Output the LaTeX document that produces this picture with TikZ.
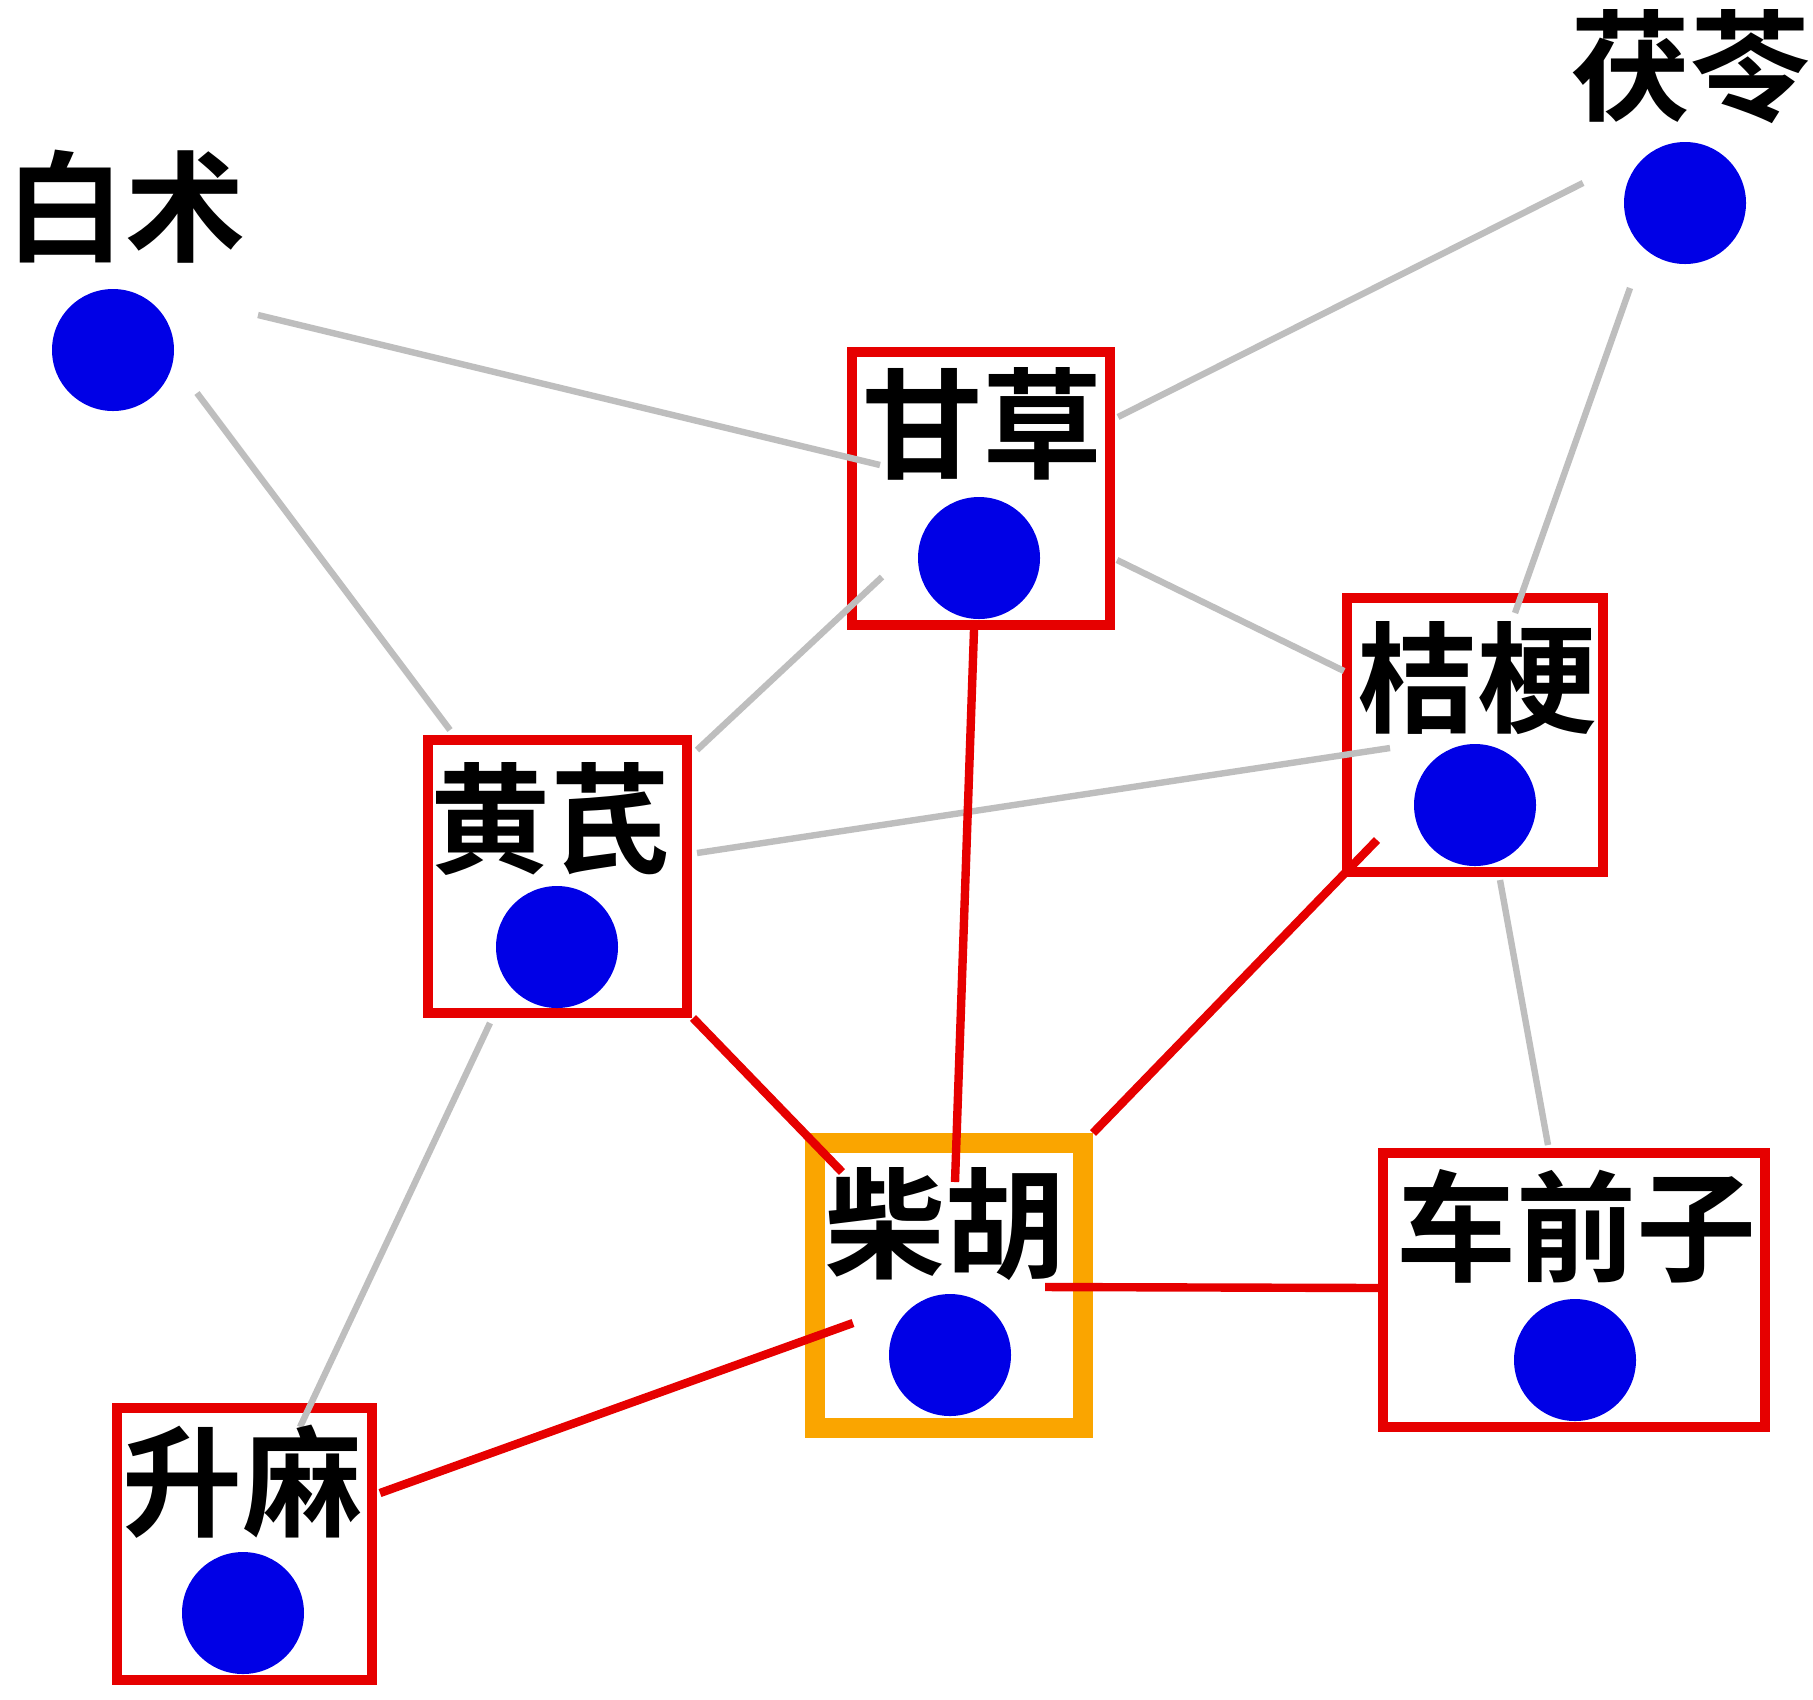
\documentclass[tikz,border=0pt]{standalone}
\usepackage{fontspec}
\newfontfamily\cjk{Noto Sans CJK SC Bold}
\definecolor{dotblue}{RGB}{0,0,230}
\definecolor{boxred}{RGB}{230,0,0}
\definecolor{edgegray}{RGB}{190,190,190}
\definecolor{hubor}{RGB}{250,165,0}
\tikzset{
  herbbox/.style={draw=boxred, line width=5pt, inner sep=0pt, fill=white},
  hubbox/.style={draw=hubor, line width=10pt, inner sep=0pt, fill=white},
  dot/.style={circle, fill=dotblue, minimum size=61pt, inner sep=0pt},
  lbl/.style={font=\cjk\fontsize{60pt}{60pt}\selectfont, inner sep=0pt, text=black},
  grayedge/.style={draw=edgegray, line width=3.2pt},
  rededge/.style={draw=boxred, line width=4.2pt}
}
\begin{document}
\begin{tikzpicture}[x=0.5pt,y=-0.5pt]
\fill[white] (0,0) rectangle (1813,1699);
\useasboundingbox (0,0) rectangle (1813,1699);
% boxes
\node[herbbox, minimum width=129pt, minimum height=136.5pt] (bGC) at (981,488.5) {};
\node[herbbox, minimum width=128pt, minimum height=137pt] (bJG) at (1475,735) {};
\node[herbbox, minimum width=129.5pt, minimum height=136.5pt] (bHQ) at (557.5,876.5) {};
\node[hubbox, minimum width=134pt, minimum height=142.5pt] (bCH) at (949,1285.5) {};
\node[herbbox, minimum width=191pt, minimum height=137pt] (bCQ) at (1574,1290) {};
\node[herbbox, minimum width=127.5pt, minimum height=136pt] (bSM) at (244.5,1544) {};
% edge end points
\coordinate (g1a) at (258,315);  \coordinate (g1b) at (880,465);
\coordinate (g2a) at (197,393);  \coordinate (g2b) at (450,730);
\coordinate (g3a) at (882,577);  \coordinate (g3b) at (697,750);
\coordinate (g4a) at (1117,560); \coordinate (g4b) at (1344,671);
\coordinate (g5a) at (697,853);  \coordinate (g5b) at (1390,748);
\coordinate (g6a) at (490,1023); \coordinate (g6b) at (300,1427);
\coordinate (g7a) at (1500,880); \coordinate (g7b) at (1548,1145);
\coordinate (g8a) at (1583,183); \coordinate (g8b) at (1118,417);
\coordinate (g9a) at (1630,288); \coordinate (g9b) at (1515,613);
\coordinate (r1a) at (974,630);  \coordinate (r1b) at (955,1182);
\coordinate (r2a) at (693,1018); \coordinate (r2b) at (842,1172);
\coordinate (r3a) at (1377,840); \coordinate (r3b) at (1093,1133);
\coordinate (r4a) at (1045,1287); \coordinate (r4b) at (1383,1288);
\coordinate (r5a) at (380,1493); \coordinate (r5b) at (853,1323);
% gray edges
\draw[grayedge] (g1a) -- (g1b);
\draw[grayedge] (g2a) -- (g2b);
\draw[grayedge] (g3a) -- (g3b);
\draw[grayedge] (g4a) -- (g4b);
\draw[grayedge] (g5a) -- (g5b);
\draw[grayedge] (g6a) -- (g6b);
\draw[grayedge] (g7a) -- (g7b);
\draw[grayedge] (g8a) -- (g8b);
\draw[grayedge] (g9a) -- (g9b);
% red edges
\draw[rededge] (r1a) -- (r1b);
\draw[rededge] (r2a) -- (r2b);
\draw[rededge] (r3a) -- (r3b);
\draw[rededge] (r4a) -- (r4b);
\draw[rededge] (r5a) -- (r5b);
% dots
\node[dot] (dBZ) at (113,350) {};
\node[dot] (dFL) at (1685,203) {};
\node[dot] (dGC) at (979,558) {};
\node[dot] (dJG) at (1475,805) {};
\node[dot] (dHQ) at (557,947) {};
\node[dot] (dCH) at (950,1355) {};
\node[dot] (dCQ) at (1575,1360) {};
\node[dot] (dSM) at (243,1613) {};
% labels
\node[lbl] (tBZ) at (125,207) {白术};
\node[lbl] (tFL) at (1690,67) {茯苓};
\node[lbl] (tGC) at (982,424) {甘草};
\node[lbl] (tJG) at (1477,678) {桔梗};
\node[lbl] (tHQ) at (550,819) {黄芪};
\node[lbl] (tCH) at (945,1224) {柴胡};
\node[lbl] (tCQ) at (1576,1226) {车前子};
\node[lbl] (tSM) at (242,1482) {升麻};
\end{tikzpicture}
\end{document}
